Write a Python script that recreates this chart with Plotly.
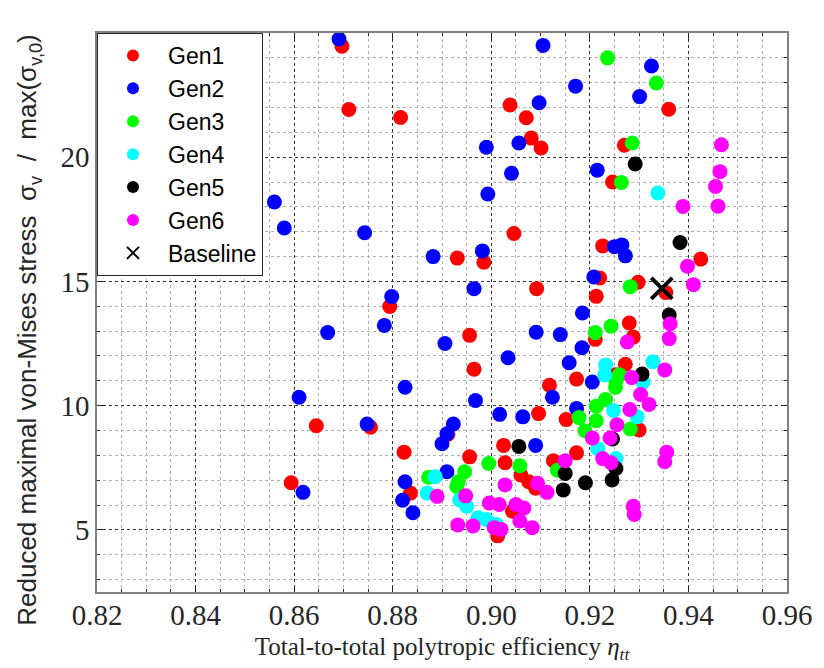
import plotly.graph_objects as go

# ---- data ----
gen1_x = [0.8697, 0.8711, 0.8816, 0.9038, 0.9360, 0.9071, 0.9081, 0.9101, 0.9270, 0.9246,
          0.9046, 0.9226, 0.8931, 0.8985, 0.9425, 0.9220, 0.9092, 0.9298, 0.9354, 0.9213,
          0.8794, 0.9280, 0.8956, 0.9211, 0.9288, 0.8965, 0.9272, 0.9252, 0.9173, 0.9118,
          0.9096, 0.9152, 0.9300, 0.8645, 0.8755, 0.8823, 0.8956, 0.9025, 0.9028, 0.9173,
          0.9126, 0.9060, 0.9076, 0.9090, 0.9043, 0.9013, 0.8594, 0.8836, 0.8912]
gen1_y = [24.47, 21.92, 21.60, 22.10, 21.93, 21.59, 20.77, 20.37, 20.48, 19.00,
          16.93, 16.43, 15.94, 15.77, 15.90, 15.14, 14.71, 14.97, 14.55, 14.40,
          13.99, 13.33, 12.83, 12.67, 12.76, 11.47, 11.67, 11.24, 11.07, 10.82,
          9.68, 9.44, 9.02, 9.19, 9.13, 8.13, 7.94, 8.40, 7.70, 8.10,
          7.78, 7.21, 6.94, 6.68, 5.75, 4.76, 6.90, 6.48, 8.85]

gen2_x = [0.8691, 0.8560, 0.8580, 0.8743, 0.8882, 0.8798, 0.9105, 0.9325, 0.9171, 0.9301,
          0.9097, 0.8990, 0.9056, 0.9041, 0.9215, 0.8993, 0.9250, 0.9265, 0.9272, 0.8982,
          0.9208, 0.8965, 0.9185, 0.8783, 0.8668, 0.8906, 0.9091, 0.9140, 0.9184, 0.9034,
          0.9158, 0.9205, 0.9124, 0.8968, 0.9017, 0.9064, 0.9173, 0.8923, 0.8910, 0.8900,
          0.9090, 0.8910, 0.8825, 0.8748, 0.8825, 0.8820, 0.8841, 0.8610, 0.8618]
gen2_y = [24.76, 18.20, 17.15, 16.96, 16.00, 14.39, 24.50, 23.67, 22.86, 22.44,
          22.19, 20.40, 20.57, 19.35, 19.48, 18.52, 16.40, 16.47, 16.03, 16.23,
          15.18, 14.71, 13.73, 13.23, 12.94, 12.50, 12.96, 12.86, 12.33, 11.93,
          11.73, 10.95, 10.34, 10.21, 9.65, 9.55, 9.89, 9.26, 8.87, 8.47,
          8.40, 7.34, 10.74, 9.26, 6.94, 6.19, 5.69, 10.34, 6.51]

gen3_x = [0.9236, 0.9335, 0.9286, 0.9264, 0.9282, 0.9243, 0.9211, 0.9260, 0.9253, 0.9252,
          0.9178, 0.9213, 0.9232, 0.9213, 0.9190, 0.9282, 0.8995, 0.9058, 0.9134, 0.8946,
          0.8933, 0.8930, 0.8873]
gen3_y = [24.00, 22.99, 20.57, 18.98, 14.79, 13.20, 12.94, 11.24, 10.98, 10.74,
          9.52, 9.98, 10.25, 9.39, 8.99, 9.06, 7.67, 7.58, 7.40, 7.34,
          6.94, 6.75, 7.12]

gen4_x = [0.9338, 0.9232, 0.9230, 0.9328, 0.9308, 0.9248, 0.9296, 0.9216, 0.9253, 0.8886,
          0.8936, 0.8950, 0.8973, 0.8990, 0.9010, 0.8870]
gen4_y = [18.56, 11.64, 11.24, 11.77, 10.95, 9.81, 9.55, 8.27, 7.87, 7.14,
          6.21, 5.95, 5.49, 5.42, 5.22, 6.48]

gen5_x = [0.9292, 0.9383, 0.9361, 0.9306, 0.9246, 0.9056, 0.9253, 0.9245, 0.9150, 0.9146, 0.9191]
gen5_y = [19.73, 16.57, 13.65, 11.27, 8.66, 8.36, 7.47, 7.01, 7.27, 6.61, 6.90]

gen6_x = [0.9467, 0.9464, 0.9455, 0.9460, 0.9389, 0.9398, 0.9410, 0.9363, 0.9361, 0.9276,
          0.9352, 0.9285, 0.9281, 0.9303, 0.9320, 0.9255, 0.9205, 0.9241, 0.9226, 0.9243,
          0.9150, 0.9094, 0.9113, 0.9028, 0.9288, 0.9290, 0.9356, 0.9352, 0.8890, 0.8948,
          0.8996, 0.9016, 0.9050, 0.9066, 0.9058, 0.9083, 0.8932, 0.8963, 0.9006, 0.9020]
gen6_y = [20.50, 19.42, 18.82, 18.03, 18.02, 15.61, 14.87, 13.30, 12.70, 12.56,
          11.44, 11.13, 9.85, 10.45, 10.05, 9.23, 8.70, 8.70, 7.87, 7.70,
          7.78, 6.88, 6.51, 6.81, 5.95, 5.62, 8.13, 7.74, 6.35, 6.37,
          6.08, 6.02, 6.02, 5.88, 5.36, 5.09, 5.20, 5.16, 5.09, 5.02]

baseline_x = [0.9346]
baseline_y = [14.72]

series = [
    ("Gen1", gen1_x, gen1_y, "#FF0000"),
    ("Gen2", gen2_x, gen2_y, "#0000FF"),
    ("Gen3", gen3_x, gen3_y, "#00FF00"),
    ("Gen4", gen4_x, gen4_y, "#00FFFF"),
    ("Gen5", gen5_x, gen5_y, "#000000"),
    ("Gen6", gen6_x, gen6_y, "#FF00FF"),
]

x_ticks = [0.82, 0.84, 0.86, 0.88, 0.90, 0.92, 0.94, 0.96]
y_ticks = [5, 10, 15, 20]

fig = go.Figure()
for name, xs, ys, col in series:
    fig.add_trace(go.Scatter(x=xs, y=ys, mode="markers", name=name,
                             marker=dict(size=15, color=col, line=dict(width=0))))
fig.add_trace(go.Scatter(x=baseline_x, y=baseline_y, mode="markers", name="Baseline",
                         marker=dict(symbol="x-thin-open", size=21, color="black",
                                     line=dict(width=4, color="black"))))

axcol = "#262626"
serif = "Liberation Serif, Times New Roman, serif"
sans = "Liberation Sans, Arial, sans-serif"
tickfont = dict(family=serif, size=29, color=axcol)

xaxis = dict(range=[0.82, 0.96], tickmode="array", tickvals=x_ticks,
             ticktext=[f"{v:.2f}" for v in x_ticks], ticklabelstandoff=-4,
             ticks="inside", ticklen=6, tickcolor=axcol, showline=True, linecolor="#808080",
             linewidth=1.5, mirror="ticks", showgrid=True, gridcolor="#333333",
             griddash="dot", gridwidth=1, zeroline=False, tickfont=tickfont,
             minor=dict(dtick=0.005, ticks="inside", ticklen=3, tickcolor=axcol,
                        showgrid=True, gridcolor="#b0b0b0", griddash="dot", gridwidth=1),
             title=dict(text="Total-to-total polytropic efficiency <i>η<sub>tt</sub></i>",
                        font=dict(family=serif, size=25, color=axcol), standoff=8))
yaxis = dict(range=[2.5, 25], tickmode="array", tickvals=y_ticks,
             ticktext=[str(v) for v in y_ticks],
             ticks="inside", ticklen=6, tickcolor=axcol,
             showline=True, linecolor="#808080", linewidth=1.5, mirror="ticks",
             showgrid=True, gridcolor="#333333", griddash="dot", gridwidth=1, zeroline=False,
             tickfont=tickfont,
             minor=dict(dtick=1, ticks="inside", ticklen=3, tickcolor=axcol,
                        showgrid=True, gridcolor="#b0b0b0", griddash="dot", gridwidth=1))

fig.update_layout(
    width=824, height=668,
    font=dict(family=serif, size=25, color=axcol),
    xaxis=xaxis, yaxis=yaxis,
    margin=dict(l=97, r=27, t=33, b=68),
    paper_bgcolor="white", plot_bgcolor="white",
    legend=dict(x=0, y=1, xanchor="left", yanchor="top", bgcolor="white",
                bordercolor="#262626", borderwidth=1, itemsizing="constant", itemwidth=60,
                font=dict(family=sans, size=23, color="black"),
                tracegroupgap=0),
    showlegend=True,
    annotations=[dict(
        text="Reduced maximal von-Mises stress  σ<sub>v</sub>  /  max(σ<sub>v,0</sub>)",
        textangle=-90, xref="paper", yref="paper", x=-0.0986, y=-0.064,
        xanchor="center", yanchor="bottom", showarrow=False,
        font=dict(family=sans, size=26, color=axcol))],
)

fig.write_html("out.html")
